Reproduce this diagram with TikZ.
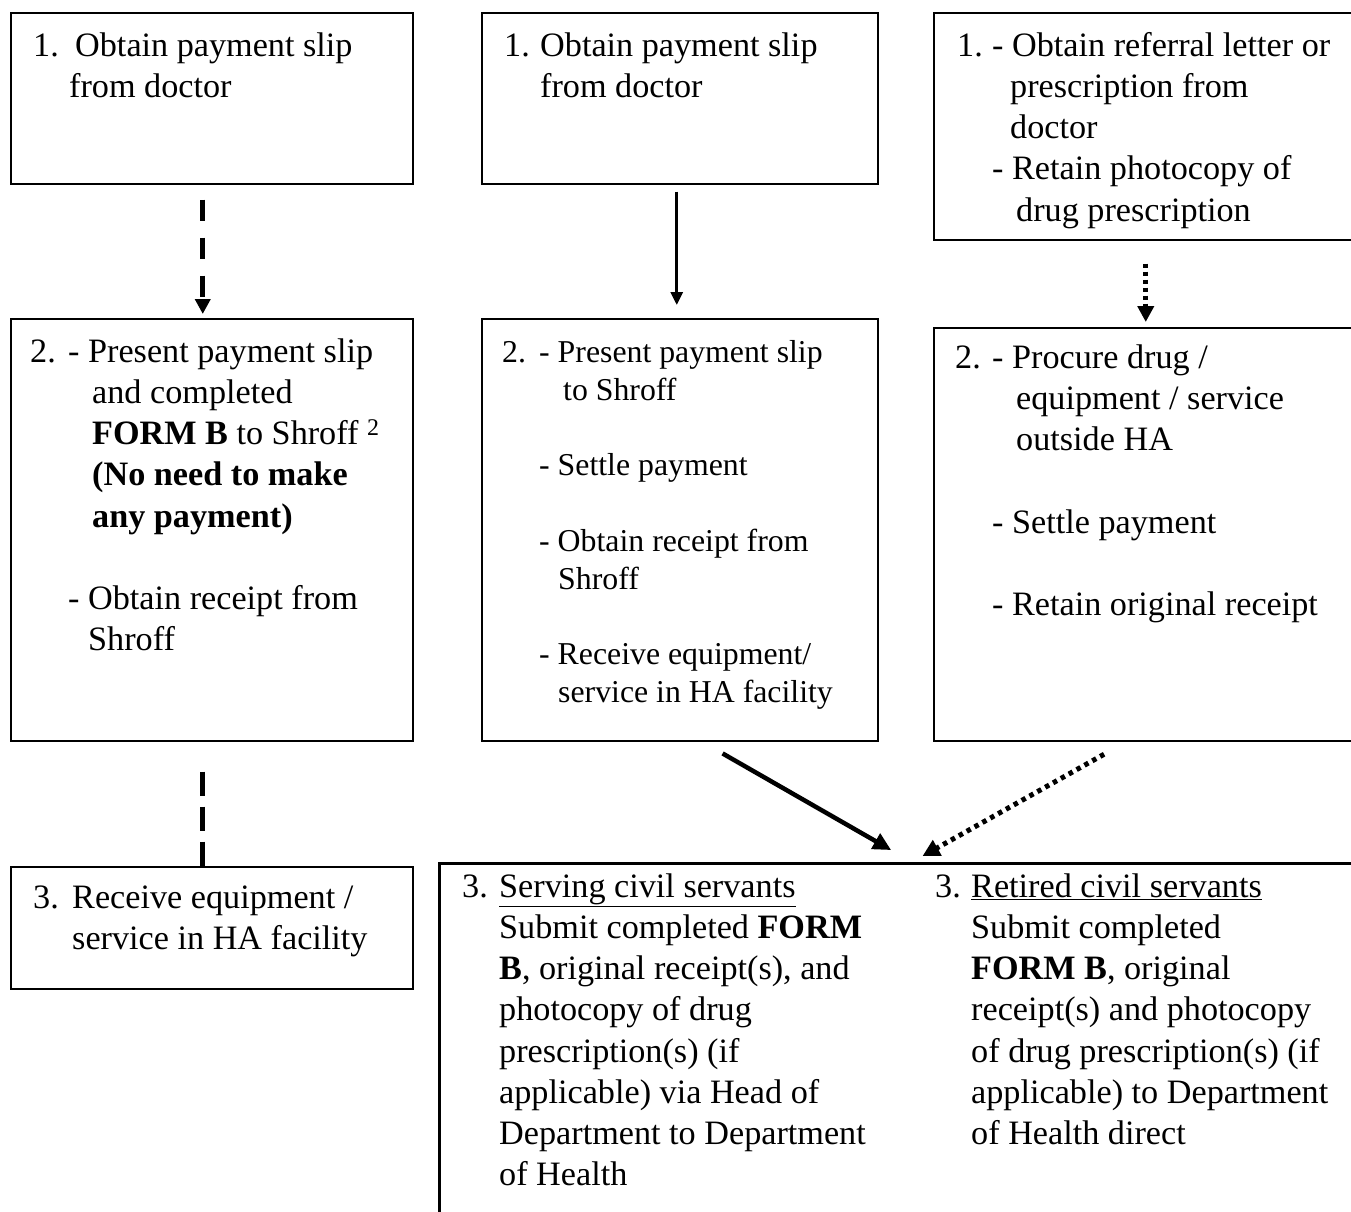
\documentclass[tikz,border=0pt]{standalone}
\usepackage{fontspec}
\setmainfont{Liberation Serif}
\usetikzlibrary{arrows.meta,calc}

\begin{document}
\begin{tikzpicture}[x=1pt, y=-1pt, >={Triangle[length=15pt,width=15pt]},
	box/.style={draw, rectangle, line width=1.5pt, inner sep=0pt, anchor=north west},
	txt/.style={anchor=north west, yshift=28.84pt, inner sep=0pt, align=left, font=\fontsize{34.2}{41.2}\selectfont},
	small/.style={txt, yshift=-2.38pt, font=\fontsize{31.8}{37.8}\selectfont},
	dashed arrow/.style={line width=5pt, dash pattern=on 21pt off 17pt},
	dotted arrow/.style={line width=5pt, dash pattern=on 4.5pt off 4.5pt, >={Triangle[length=16pt,width=16pt]}}]

\path[use as bounding box, fill=white] (0,0) rectangle (1351,1211);

\node[box, minimum width=402pt, minimum height=171pt] (s1a) at (10,12) {};
\node[box, minimum width=396pt, minimum height=171pt] (s1b) at (481,12) {};
\node[box, minimum width=430pt, minimum height=227pt] (s1c) at (933,12) {};
\node[box, minimum width=402pt, minimum height=422pt] (s2a) at (10,318) {};
\node[box, minimum width=396pt, minimum height=422pt] (s2b) at (481,318) {};
\node[box, minimum width=430pt, minimum height=413pt] (s2c) at (933,327) {};
\node[box, minimum width=402pt, minimum height=122pt] (s3a) at (10,866) {};
\node[box, line width=2.5pt, minimum width=940pt, minimum height=380pt] (s3b) at (438,862) {};

\node[txt] (n1a) at (33,56) {\strut 1.};
\node[txt] (n1b) at (504,56) {\strut 1.};
\node[txt] (n1c) at (957,56) {\strut 1.};
\node[txt] (n2a) at (30,362) {\strut 2.};
\node[small] (n2b) at (502,362) {\strut 2.};
\node[txt] (n2c) at (955,368) {\strut 2.};
\node[txt] (n3a) at (33,908) {\strut 3.};
\node[txt] (n3b) at (462,897) {\strut 3.};
\node[txt] (n3c) at (935,897) {\strut 3.};

\node[txt] (t1a) at (69,56) {\strut\hspace*{6pt}Obtain payment slip\\from doctor};
\node[txt] (t1b) at (540,56) {\strut Obtain payment slip\\from doctor};
\node[txt] (t1c) at (992,56) {\strut - Obtain referral letter or\\\hspace*{18pt}prescription from\\\hspace*{18pt}doctor\\- Retain photocopy of\\\hspace*{24pt}drug prescription};
\node[txt] (t2a) at (68,362) {\strut - Present payment slip\\\hspace*{24pt}and completed\\\hspace*{24pt}\textbf{FORM B} to Shroff \textsuperscript{2}\\\hspace*{24pt}\textbf{(No need to make}\\\hspace*{24pt}\textbf{any payment)}\\[41.2pt]- Obtain receipt from\\\hspace*{20pt}Shroff};
\node[small] (t2b) at (539,362) {\strut - Present payment slip\\\hspace*{24pt}to Shroff\\[37.8pt]- Settle payment\\[37.8pt]- Obtain receipt from\\\hspace*{19pt}Shroff\\[37.8pt]- Receive equipment/\\\hspace*{19pt}service in HA facility};
\node[txt] (t2c) at (992,368) {\strut - Procure drug /\\\hspace*{24pt}equipment / service\\\hspace*{24pt}outside HA\\[41.2pt]- Settle payment\\[41.2pt]- Retain original receipt};
\node[txt] (t3a) at (72,908) {\strut Receive equipment /\\service in HA facility};
\node[txt] (t3b) at (499,897) {\strut\underline{Serving civil servants}\\Submit completed \textbf{FORM}\\\textbf{B}, original receipt(s), and\\photocopy of drug\\prescription(s) (if\\applicable) via Head of\\Department to Department\\of Health};
\node[txt] (t3c) at (971,897) {\strut\underline{Retired civil servants}\\Submit completed\\\textbf{FORM B}, original\\receipt(s) and photocopy\\of drug prescription(s) (if\\applicable) to Department\\of Health direct};

\coordinate (meet) at ($(s3b.north west)+(474,0)$);

\draw[->, dashed arrow, shorten <=15pt, shorten >=4pt] ($(s1a.south)+(-9,0)$) -- ($(s2a.north)+(-9,0)$);
\draw[line width=5pt, dash pattern=on 24pt off 11pt, shorten <=30pt] ($(s2a.south)+(-9,0)$) -- ($(s3a.north)+(-9,0)$);
\draw[->, line width=3pt, >={Triangle[length=13pt,width=12pt]}, shorten <=7pt, shorten >=13pt] ($(s1b.south)+(-3,0)$) -- ($(s2b.north)+(-3,0)$);
\draw[->, dotted arrow, dash pattern=on 4pt off 4pt, shorten <=23pt, shorten >=5pt] ($(s1c.south)+(-3,0)$) -- ($(s2c.north)+(-3,0)$);
\draw[->, line width=4.5pt, >={Triangle[length=18pt,width=17pt]}, shorten <=24pt, shorten >=24pt] ($(s2b.south)+(22,0)$) -- (meet);
\draw[->, dotted arrow, >={Triangle[length=17pt,width=17pt]}, shorten <=26pt, shorten >=12pt] ($(s2c.south)+(-22,0)$) -- (meet);

\end{tikzpicture}
\end{document}
